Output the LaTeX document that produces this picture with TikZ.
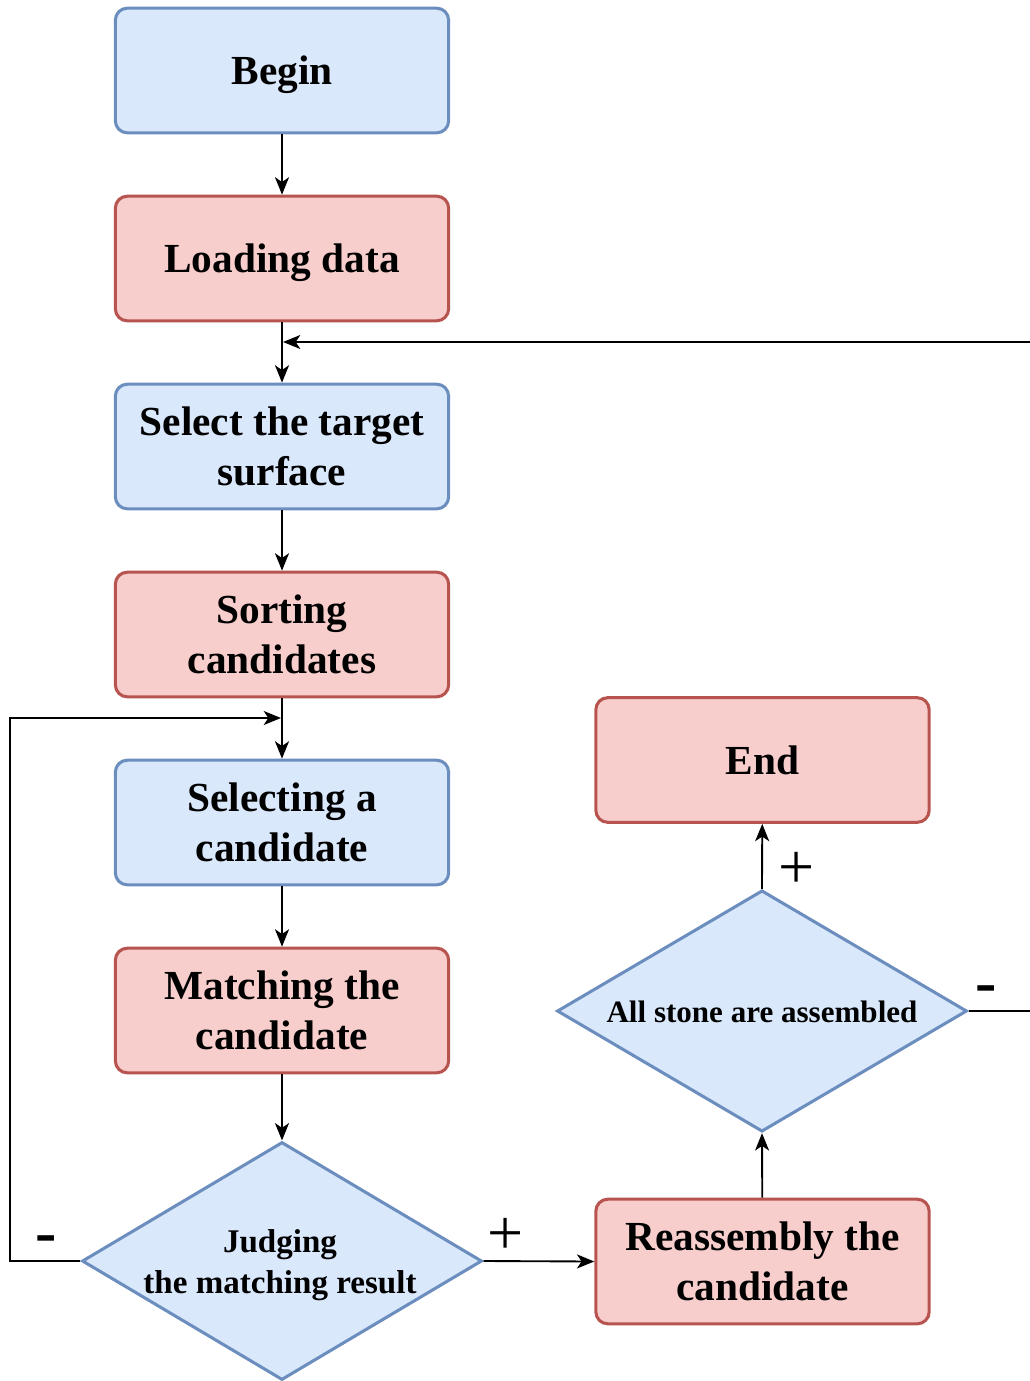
\documentclass[tikz,border=0pt]{standalone}
\usepackage{fontspec}
\setmainfont{Liberation Serif}
\usetikzlibrary{shapes.geometric,arrows.meta}
\definecolor{bfill}{HTML}{DAE8FC}
\definecolor{bline}{HTML}{6C8EBF}
\definecolor{rfill}{HTML}{F8CECC}
\definecolor{rline}{HTML}{B85450}
\tikzset{
  box/.style={rectangle, rounded corners=9pt, line width=2.3pt, minimum width=250pt, minimum height=93.5pt, align=center, inner sep=0pt, text depth=0pt,
    font=\fontsize{31}{37.5}\selectfont\bfseries},
  bluebox/.style={box, fill=bfill, draw=bline},
  redbox/.style={box, fill=rfill, draw=rline},
  dia/.style={diamond, fill=bfill, draw=bline, line width=2.3pt, inner sep=0pt},
  dtext/.style={align=center, font=\fontsize{23.3}{31}\selectfont\bfseries},
  arr/.style={line width=1.4pt, -{Stealth[length=13pt,width=10.5pt,inset=3.5pt]}},
  ln/.style={line width=1.4pt},
  sgn/.style={font=\fontsize{48}{48}\selectfont},
  sgnb/.style={font=\fontsize{48}{48}\selectfont\bfseries},
}
\begin{document}
\begin{tikzpicture}[x=0.75pt,y=-0.75pt]
\useasboundingbox (0,0) rectangle (1030,1381);
\node[bluebox] (begin) at (282,70.5) {Begin};
\node[redbox] (load) at (282,258.5) {Loading data};
\node[bluebox] (sel) at (282,446.5) {Select the target\\surface};
\node[redbox] (sort) at (282,634.5) {Sorting\\candidates};
\node[bluebox] (cand) at (282,822.5) {Selecting a\\candidate};
\node[redbox] (match) at (282,1010.5) {Matching the\\candidate};
\node[dia, minimum width=300pt, minimum height=178.5pt] (judge) at (282,1261) {};
\node[dtext, font=\fontsize{24.8}{31}\selectfont\bfseries] (judget) at (280,1265) {Judging\\the matching result};
\node[redbox] (reas) at (762.5,1261.5) {Reassembly the\\candidate};
\node[dia, minimum width=307.5pt, minimum height=181pt] (all) at (762,1011) {};
\node[dtext] (allt) at (762,1012) {All stone are assembled};
\node[redbox] (end) at (762.5,760) {End};

\coordinate (rt) at (1030,342);
\coordinate (fb) at (283,342);
\coordinate (lc) at (10,718);
\coordinate (lp) at (281,718);
\coordinate (re) at (1030,1011);

\draw[arr] (begin) -- (load);
\draw[arr] (load) -- (sel);
\draw[arr] (rt) -- (fb);
\draw[arr] (sel) -- (sort);
\draw[arr] (sort) -- (cand);
\draw[arr] (cand) -- (match);
\draw[arr] (match) -- (judge);
\draw[arr] (judge.west) -| (lc) -- (lp);
\draw[arr] (judge.east) -- (reas.west);
\draw[arr] (reas) -- (all.south);
\draw[arr] (all.north) -- (end);
\draw[ln] (all.east) -- (re);

\node[sgnb] (m1) at (46,1245) {-};
\node[sgn] (p1) at (506,1236) {+};
\node[sgn] (p2) at (797,870) {+};
\node[sgnb] (m2) at (986,995) {-};
\end{tikzpicture}
\end{document}
